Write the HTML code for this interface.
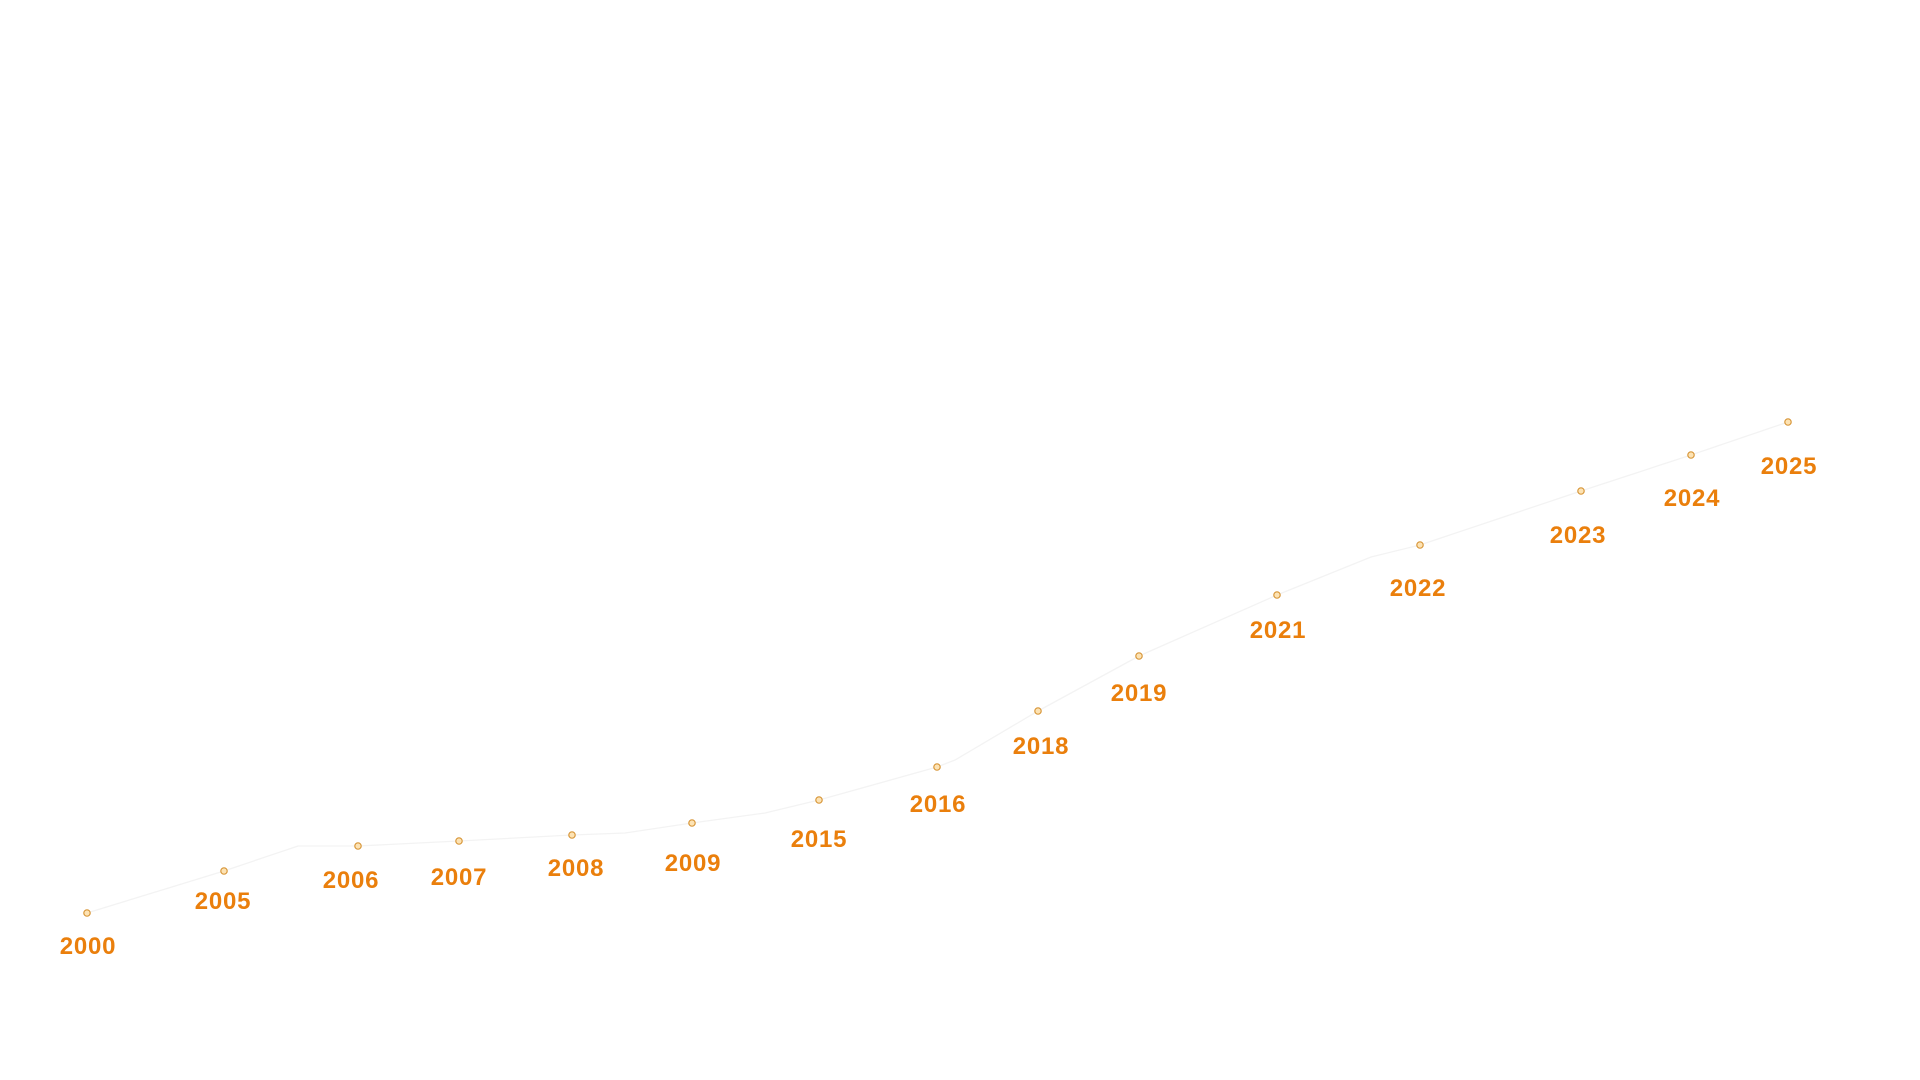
<!DOCTYPE html>
<html><head><meta charset="utf-8"><style>
html,body{margin:0;padding:0;background:#fff;width:1920px;height:1080px;overflow:hidden}
text{font-family:"Liberation Sans",sans-serif;font-weight:bold;font-size:24px;letter-spacing:0.8px;fill:#ea7f0c;text-anchor:middle}
</style></head><body>
<svg width="1920" height="1080" xmlns="http://www.w3.org/2000/svg">
<polyline fill="none" stroke="#f3f3f3" stroke-width="1.3" points="87,913 224,871 298,846 358,846 459,841 572,835 625,833 692,823 765,813 819,800 937,767 955,760 1038,711 1139,656 1277,595 1371,557 1420,545 1581,491 1691,455 1788,422"/>
<g fill="#fde3b4" stroke="#d8973a" stroke-width="1.2">
<circle cx="87" cy="913" r="3.2"/><circle cx="224" cy="871" r="3.2"/><circle cx="358" cy="846" r="3.2"/><circle cx="459" cy="841" r="3.2"/><circle cx="572" cy="835" r="3.2"/><circle cx="692" cy="823" r="3.2"/><circle cx="819" cy="800" r="3.2"/><circle cx="937" cy="767" r="3.2"/><circle cx="1038" cy="711" r="3.2"/><circle cx="1139" cy="656" r="3.2"/><circle cx="1277" cy="595" r="3.2"/><circle cx="1420" cy="545" r="3.2"/><circle cx="1581" cy="491" r="3.2"/><circle cx="1691" cy="455" r="3.2"/><circle cx="1788" cy="422" r="3.2"/>
</g>
<text x="88" y="954">2000</text>
<text x="223" y="909">2005</text>
<text x="351" y="888">2006</text>
<text x="459" y="885">2007</text>
<text x="576" y="876">2008</text>
<text x="693" y="871">2009</text>
<text x="819" y="847">2015</text>
<text x="938" y="812">2016</text>
<text x="1041" y="754">2018</text>
<text x="1139" y="701">2019</text>
<text x="1278" y="638">2021</text>
<text x="1418" y="596">2022</text>
<text x="1578" y="543">2023</text>
<text x="1692" y="506">2024</text>
<text x="1789" y="474">2025</text>
</svg>
</body></html>
